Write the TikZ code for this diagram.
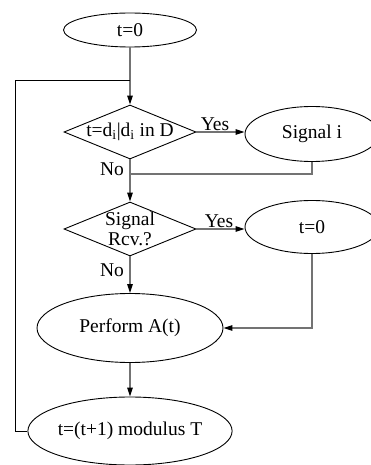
\documentclass[tikz,border=0pt]{standalone}
\usepackage{fontspec}
\setmainfont{Liberation Serif}
\usetikzlibrary{shapes.geometric,arrows.meta}
\begin{document}
\begin{tikzpicture}[x=1pt,y=-1pt,
  every node/.style={font=\fontsize{19.5}{16}\selectfont},
  ell/.style={draw=black,line width=0.9pt,ellipse,inner sep=0pt},
  dia/.style={draw=black,line width=0.9pt,diamond,inner sep=0pt,aspect=1,minimum width=132pt,minimum height=54pt},
  conn/.style={draw=black!55,line width=1.4pt},
  arr/.style={conn,-{Triangle[length=9pt,width=5.5pt,color=black]}},
  loopline/.style={draw=black,line width=1pt},
  lab/.style={inner sep=0pt}]
\useasboundingbox (0,0) rectangle (371,465);
\clip (0,0) rectangle (371,465);
\node[ell,minimum width=133pt,minimum height=34pt] (start) at (130,30) {t=0};
\node[dia] (d1) at (130,132) {\makebox[0pt]{t=d\textsubscript{i}|d\textsubscript{i} in D}};
\node[ell,minimum width=134pt,minimum height=55pt] (sig) at (312,134) {Signal i};
\node[dia] (d2) at (130,229) {\makebox[0pt]{\shortstack{Signal\\[0pt]Rcv.?}}};
\node[ell,minimum width=134pt,minimum height=53pt] (t0b) at (312,227) {t=0};
\node[ell,minimum width=186pt,minimum height=69pt] (perf) at (130,328) {Perform A(t)};
\node[ell,minimum width=186pt,minimum height=68pt] (mod) at (130,431) {t=(t+1) modulus T};
\coordinate (join) at (130,81);
\coordinate (merge) at (130,174);
\coordinate (lc) at (15,81);
\draw[arr] (start) -- (d1.north);
\draw[arr] (d1.east) -- (d1.east -| sig.west);
\node[lab] (yes1) at (215,124) {Yes};
\draw[conn] (sig.south) |- (merge);
\draw[arr] (d1.south) -- (d2.north);
\node[lab] (no1) at (112,169) {No};
\draw[arr] (d2.east) -- (d2.east -| t0b.west);
\node[lab] (yes2) at (219,221) {Yes};
\draw[arr] (t0b.south) |- (perf.east);
\draw[arr] (d2.south) -- (perf.north);
\node[lab] (no2) at (112,270) {No};
\draw[arr] (perf.south) -- (mod.north);
\draw[loopline] (mod.west) -| (lc) -- (join);
\end{tikzpicture}
\end{document}
